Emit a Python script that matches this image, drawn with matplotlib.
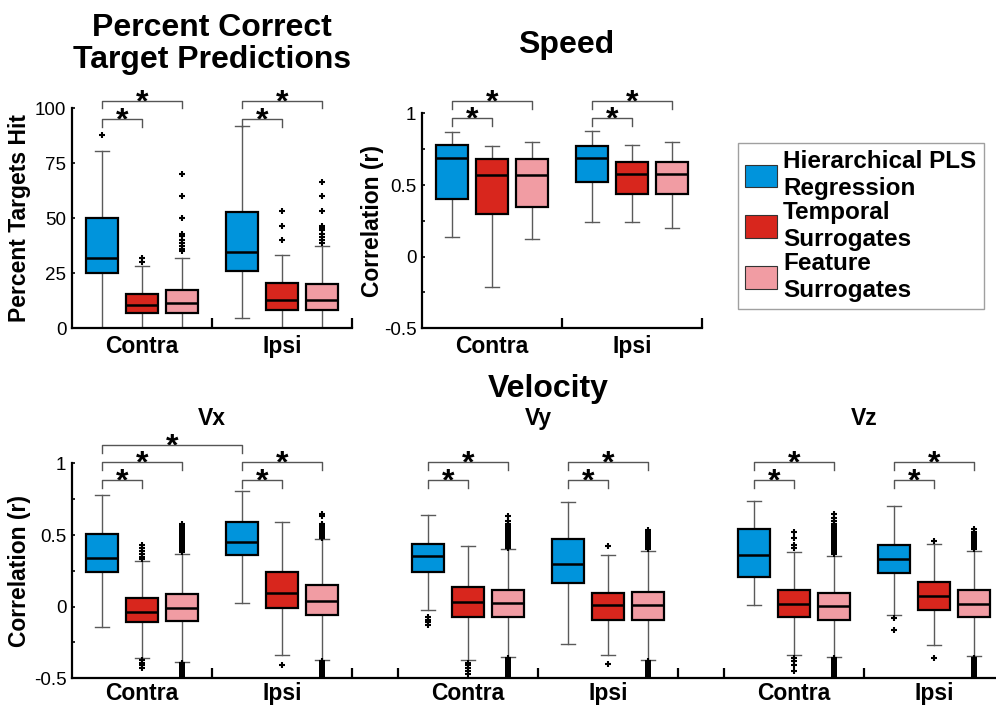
import numpy as np
import matplotlib
matplotlib.use("Agg")
import matplotlib.pyplot as plt
from matplotlib.patches import Patch

plt.rcParams['font.family'] = ['Liberation Sans', 'DejaVu Sans']

# ---------------- data ----------------
methods = ["Hierarchical PLS\nRegression", "Temporal\nSurrogates", "Feature\nSurrogates"]
sides = ["Contra", "Ipsi"]
components = ["Vx", "Vy", "Vz"]
colors = ["#0094DC", "#D8261D", "#F19CA3"]

# order of boxes: Contra (PLS, Temporal, Feature), Ipsi (PLS, Temporal, Feature)
pct_q1 = [25, 7, 7, 26, 8.5, 8.5]
pct_med = [32, 10.5, 11.5, 34.5, 13, 13]
pct_q3 = [50, 15.5, 17.5, 53, 20.5, 20]
pct_lo = [0, 0, 0, 4.5, 0, 0]
pct_hi = [80.5, 28.5, 32, 92, 33.5, 37.5]
pct_out = [[88], [30, 32], [70, 60, 50, 43, 42, 40, 39, 37.5, 36, 35],
           [], [53.3, 46.7, 40], [66.7, 60, 53.3, 46.7, 45.8, 44.5, 43, 41.5, 40, 39]]

spd_q1 = [0.40, 0.30, 0.35, 0.52, 0.44, 0.44]
spd_med = [0.69, 0.57, 0.57, 0.69, 0.58, 0.58]
spd_q3 = [0.78, 0.68, 0.68, 0.77, 0.66, 0.66]
spd_lo = [0.14, -0.21, 0.12, 0.24, 0.24, 0.20]
spd_hi = [0.87, 0.77, 0.80, 0.88, 0.78, 0.80]
spd_out = [[], [], [], [], [], []]

vx_q1 = [0.24, -0.11, -0.10, 0.36, -0.01, -0.06]
vx_med = [0.34, -0.035, -0.01, 0.45, 0.095, 0.04]
vx_q3 = [0.51, 0.06, 0.09, 0.59, 0.24, 0.15]
vx_lo = [-0.145, -0.36, -0.385, 0.025, -0.34, -0.37]
vx_hi = [0.78, 0.32, 0.37, 0.81, 0.59, 0.47]
vx_out = [[],
          [0.33, 0.35, 0.37, 0.39, 0.41, 0.43, -0.37, -0.39, -0.41, -0.43],
          [0.38, 0.39, 0.40, 0.41, 0.42, 0.43, 0.44, 0.45, 0.46, 0.47, 0.48, 0.49, 0.50,
           0.51, 0.52, 0.53, 0.54, 0.55, 0.56, 0.58,
           -0.39, -0.40, -0.41, -0.42, -0.43, -0.44, -0.45, -0.46, -0.47, -0.48, -0.49, -0.50],
          [],
          [-0.41],
          [0.48, 0.49, 0.50, 0.51, 0.52, 0.53, 0.54, 0.55, 0.56, 0.57, 0.58, 0.63, 0.65,
           -0.38, -0.39, -0.40, -0.41, -0.42, -0.43, -0.44, -0.45, -0.46, -0.47, -0.48, -0.49, -0.50]]

vy_q1 = [0.24, -0.075, -0.07, 0.165, -0.09, -0.09]
vy_med = [0.355, 0.03, 0.025, 0.295, 0.015, 0.01]
vy_q3 = [0.44, 0.135, 0.115, 0.475, 0.095, 0.105]
vy_lo = [-0.025, -0.37, -0.35, -0.26, -0.34, -0.37]
vy_hi = [0.64, 0.42, 0.40, 0.73, 0.36, 0.39]
vy_out = [[-0.07, -0.09, -0.11, -0.125],
          [-0.39, -0.41, -0.43, -0.45, -0.47],
          [0.41, 0.42, 0.43, 0.44, 0.45, 0.46, 0.47, 0.48, 0.49, 0.50, 0.51, 0.52, 0.53,
           0.54, 0.55, 0.56, 0.57, 0.58, 0.60, 0.63,
           -0.36, -0.37, -0.38, -0.39, -0.40, -0.41, -0.42, -0.43, -0.44, -0.45, -0.46,
           -0.47, -0.48, -0.49, -0.50],
          [],
          [0.42, -0.40],
          [0.40, 0.41, 0.42, 0.43, 0.44, 0.45, 0.46, 0.47, 0.48, 0.49, 0.50, 0.51, 0.52, 0.535,
           -0.38, -0.39, -0.40, -0.41, -0.42, -0.43, -0.44, -0.45, -0.46, -0.47, -0.48, -0.49, -0.50]]

vz_q1 = [0.205, -0.07, -0.09, 0.235, -0.02, -0.07]
vz_med = [0.36, 0.02, 0.005, 0.335, 0.075, 0.02]
vz_q3 = [0.54, 0.115, 0.095, 0.43, 0.17, 0.115]
vz_lo = [0.015, -0.335, -0.35, -0.06, -0.27, -0.345]
vz_hi = [0.74, 0.385, 0.355, 0.70, 0.44, 0.39]
vz_out = [[],
          [0.41, 0.43, 0.48, 0.52, -0.36, -0.38, -0.41, -0.45],
          [0.37, 0.38, 0.39, 0.40, 0.41, 0.42, 0.43, 0.44, 0.45, 0.46, 0.47, 0.48, 0.49, 0.50,
           0.51, 0.52, 0.53, 0.54, 0.55, 0.56, 0.57, 0.58, 0.60, 0.62, 0.65,
           -0.36, -0.37, -0.38, -0.39, -0.40, -0.41, -0.42, -0.43, -0.44, -0.45, -0.46,
           -0.47, -0.48, -0.49, -0.50],
          [-0.08, -0.16],
          [0.455, -0.36],
          [0.40, 0.41, 0.42, 0.43, 0.44, 0.45, 0.46, 0.47, 0.48, 0.49, 0.50, 0.51, 0.52, 0.54,
           -0.355, -0.365, -0.375, -0.385, -0.395, -0.405, -0.415, -0.425, -0.435, -0.445,
           -0.455, -0.465, -0.475, -0.485, -0.495]]

# significance brackets: (box i, box j, height)
pct_brackets = [(0, 1, 95.0), (0, 2, 103.5), (3, 4, 95.0), (3, 5, 103.5)]
spd_brackets = [(0, 1, 0.966), (0, 2, 1.089), (3, 4, 0.966), (3, 5, 1.089)]
vx_brackets = [(0, 1, 0.884), (0, 2, 1.008), (0, 3, 1.128), (3, 4, 0.884), (3, 5, 1.008)]
vy_brackets = [(0, 1, 0.884), (0, 2, 1.008), (3, 4, 0.884), (3, 5, 1.008)]
vz_brackets = [(0, 1, 0.884), (0, 2, 1.008), (3, 4, 0.884), (3, 5, 1.008)]

# ---------------- layout ----------------
box_pos = np.array([0.75, 1.75, 2.75, 4.25, 5.25, 6.25])
label_pos = [1.75, 5.25]
group_ticks = [3.5, 7.0]
vel_offsets = [0.0, 8.15, 16.3]

W, H = 996, 709
fig = plt.figure(figsize=(W / 100, H / 100), dpi=100)


def fig_rect(x0, x1, ytop, ybot):
    return [x0 / W, 1 - ybot / H, (x1 - x0) / W, (ybot - ytop) / H]


TICK_FS = 13.5
LAB_FS = 16.5


def style_axes(ax, xpad):
    for s in ["top", "right"]:
        ax.spines[s].set_visible(False)
    for s in ["left", "bottom"]:
        ax.spines[s].set_linewidth(1.6)
        ax.spines[s].set_color("black")
    ax.tick_params(axis="y", direction="in", length=2.5, width=1.2, labelsize=TICK_FS, pad=4)
    ax.tick_params(axis="x", which="major", length=0, pad=xpad, labelsize=LAB_FS)
    ax.tick_params(axis="x", which="minor", direction="in", length=7, width=1.6)
    for lab in ax.get_xticklabels():
        lab.set_fontweight("bold")


def make_stats(q1, med, q3, lo, hi, out):
    return [dict(q1=a, med=b, q3=c, whislo=d, whishi=e, fliers=np.array(f, dtype=float))
            for a, b, c, d, e, f in zip(q1, med, q3, lo, hi, out)]


def draw_boxes(ax, stats, positions):
    bp = ax.bxp(stats, positions=positions, widths=0.82, capwidths=0.34,
                patch_artist=True, manage_ticks=False,
                boxprops=dict(edgecolor="black", linewidth=1.6),
                medianprops=dict(color="black", linewidth=1.8),
                whiskerprops=dict(color="#5a5a5a", linewidth=1.0),
                capprops=dict(color="#5a5a5a", linewidth=1.0),
                flierprops=dict(marker="+", markeredgecolor="black", markersize=4,
                                markeredgewidth=1.5, linestyle="none"))
    for i, b in enumerate(bp["boxes"]):
        b.set_facecolor(colors[i % 3])
        b.set_zorder(3)
    for m in bp["medians"]:
        m.set_zorder(4)


def draw_brackets(ax, brackets, positions, drop):
    for i, j, y in brackets:
        x1, x2 = positions[i], positions[j]
        ax.plot([x1, x1, x2, x2], [y - drop, y, y, y - drop], color="#555555",
                linewidth=1.0, clip_on=False, zorder=5)
        ax.annotate("*", xy=((x1 + x2) / 2, y), xytext=(0, -7.5), textcoords="offset points",
                    ha="center", va="baseline", fontsize=23, fontweight="bold",
                    annotation_clip=False)


# ---------- Percent correct ----------
ax1 = fig.add_axes(fig_rect(72, 352, 108.3, 328.3))
draw_boxes(ax1, make_stats(pct_q1, pct_med, pct_q3, pct_lo, pct_hi, pct_out), box_pos)
ax1.set_xlim(0, 7)
ax1.set_ylim(0, 100)
ax1.set_yticks([0, 25, 50, 75, 100])
ax1.set_xticks(label_pos, sides)
ax1.set_xticks(group_ticks, minor=True)
style_axes(ax1, 5)
ax1.set_ylabel("Percent Targets Hit", fontsize=LAB_FS, fontweight="bold")
ax1.yaxis.set_label_coords(-0.148, 0.5)
draw_brackets(ax1, pct_brackets, box_pos, 3.3)

# ---------- Speed ----------
ax2 = fig.add_axes(fig_rect(422, 702, 113.4, 328.3))
draw_boxes(ax2, make_stats(spd_q1, spd_med, spd_q3, spd_lo, spd_hi, spd_out), box_pos)
ax2.set_xlim(0, 7)
ax2.set_ylim(-0.5, 1)
ax2.set_yticks([-0.5, -0.25, 0, 0.25, 0.5, 0.75, 1], ["-0.5", "", "0", "", "0.5", "", "1"])
ax2.set_xticks(label_pos, sides)
ax2.set_xticks(group_ticks, minor=True)
style_axes(ax2, 5)
ax2.set_ylabel("Correlation (r)", fontsize=LAB_FS, fontweight="bold")
ax2.yaxis.set_label_coords(-0.135, 0.5)
draw_brackets(ax2, spd_brackets, box_pos, 0.055)

# ---------- Velocity ----------
ax3 = fig.add_axes(fig_rect(72, 72 + 23.3 * 40, 463.4, 678.3))
vel_sets = [
    (vx_q1, vx_med, vx_q3, vx_lo, vx_hi, vx_out, vx_brackets),
    (vy_q1, vy_med, vy_q3, vy_lo, vy_hi, vy_out, vy_brackets),
    (vz_q1, vz_med, vz_q3, vz_lo, vz_hi, vz_out, vz_brackets),
]
lab_x, lab_t, minor_x = [], [], []
for off, comp, (q1, med, q3, lo, hi, out, br) in zip(vel_offsets, components, vel_sets):
    pos = box_pos + off
    draw_boxes(ax3, make_stats(q1, med, q3, lo, hi, out), pos)
    draw_brackets(ax3, br, pos, 0.055)
    lab_x += [p + off for p in label_pos]
    lab_t += sides
    minor_x += ([off] if off > 0 else []) + [g + off for g in group_ticks]
    ax3.text(group_ticks[0] + off, 1.268, comp, ha="center", va="baseline",
             fontsize=16.5, fontweight="bold", clip_on=False)
ax3.set_xlim(0, 23.3)
ax3.set_ylim(-0.5, 1)
ax3.set_yticks([-0.5, -0.25, 0, 0.25, 0.5, 0.75, 1], ["-0.5", "", "0", "", "0.5", "", "1"])
ax3.set_xticks(lab_x, lab_t)
ax3.set_xticks(minor_x, minor=True)
style_axes(ax3, 2.5)
ax3.set_ylabel("Correlation (r)", fontsize=LAB_FS, fontweight="bold")
ax3.yaxis.set_label_coords(-41 / 932, 0.5)

# ---------- titles ----------
fig.text(212 / W, 1 - 44 / H, "Percent Correct\nTarget Predictions", ha="center", va="center",
         fontsize=23, fontweight="bold", linespacing=1.1)
fig.text(566 / W, 1 - 53 / H, "Speed", ha="center", va="baseline", fontsize=23, fontweight="bold")
fig.text(548 / W, 1 - 397 / H, "Velocity", ha="center", va="baseline", fontsize=23, fontweight="bold")

# ---------- legend ----------
handles = [Patch(facecolor=c, edgecolor="#333333", linewidth=0.8) for c in colors]
leg = fig.legend(handles, methods, loc="upper left", bbox_to_anchor=(738 / W, 1 - 143 / H),
                 frameon=True, fancybox=False, edgecolor="#888888",
                 prop=dict(weight="bold", size=17.5), handlelength=1.3, handleheight=1.05,
                 handletextpad=0.25, labelspacing=0.05, borderpad=0.3, borderaxespad=0)
leg.get_frame().set_linewidth(1.0)

fig.savefig("out.png", dpi=100)
